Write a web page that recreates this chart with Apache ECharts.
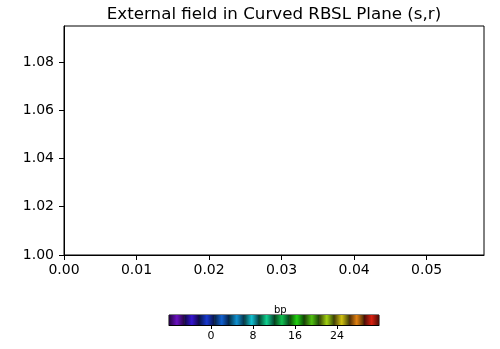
<!DOCTYPE html>
<html><head><meta charset="utf-8">
<script src="https://cdn.jsdelivr.net/npm/echarts@6/dist/echarts.min.js"></script>
<style>html,body{margin:0;padding:0;background:#fff}#c{width:500px;height:349px}</style>
</head><body><div id="c"></div>
<script>
const xTicks = [0, 0.01, 0.02, 0.03, 0.04, 0.05];
const yTicks = [1.00, 1.02, 1.04, 1.06, 1.08];
const xRange = [0, 0.0579];
const yRange = [1.0, 1.0949];
const cbTicks = [0, 8, 16, 24];
const cbRange = [-8, 32];
const bandEdges = [-8, -5.1, -2.3, 0.6, 3.4, 6.3, 9.1, 12, 14.9, 17.7, 20.6, 23.4, 26.3, 29.1, 32];
const bandColors = ['#6a10c0','#3414d0','#1838d0','#1060d0','#1090d0','#10c0d0','#10d090',
  '#10c050','#20d010','#50c010','#a0d010','#d0c010','#e08010','#d82010'];
const font = 'DejaVu Sans';

function darken(hex, f){
  const n = parseInt(hex.slice(1),16);
  const r = Math.round(((n>>16)&255)*f), g = Math.round(((n>>8)&255)*f), b = Math.round((n&255)*f);
  return 'rgb('+r+','+g+','+b+')';
}

const chart = echarts.init(document.getElementById('c'), null, {renderer:'canvas'});
chart.setOption({
  animation:false,
  title:{text:'External field in Curved RBSL Plane (s,r)', left:269, top:1, textAlign:'center',
    textStyle:{fontFamily:font, fontSize:16.7, fontWeight:'normal', color:'#000'}},
  grid:[
    {left:64, right:16, top:26, bottom:94, show:true, borderColor:'#000', borderWidth:1, containLabel:false},
    {left:169, width:210, top:315, height:10, show:true, borderColor:'#000', borderWidth:1}
  ],
  xAxis:[
    {type:'value', gridIndex:0, min:xRange[0], max:xRange[1],
      axisLine:{show:true, lineStyle:{color:'#000'}},
      axisTick:{show:true, inside:false, length:5, customValues:xTicks, lineStyle:{color:'#000'}},
      axisLabel:{customValues:xTicks, formatter:v=>v.toFixed(2), margin:8, color:'#000', fontFamily:font, fontSize:14},
      splitLine:{show:false}},
    {type:'value', gridIndex:1, min:cbRange[0], max:cbRange[1],
      axisLine:{show:true, lineStyle:{color:'#000'}},
      axisTick:{show:true, inside:false, length:4, customValues:cbTicks, lineStyle:{color:'#000'}},
      axisLabel:{customValues:cbTicks, margin:6, color:'#000', fontFamily:font, fontSize:11},
      splitLine:{show:false}}
  ],
  yAxis:[
    {type:'value', gridIndex:0, min:yRange[0], max:yRange[1],
      axisLine:{show:true, lineStyle:{color:'#000'}},
      axisTick:{show:true, inside:false, length:5, customValues:yTicks, lineStyle:{color:'#000'}},
      axisLabel:{customValues:yTicks, formatter:v=>v.toFixed(2), margin:10, color:'#000', fontFamily:font, fontSize:14},
      splitLine:{show:false}},
    {type:'value', gridIndex:1, min:0, max:1, show:false}
  ],
  graphic:[{type:'text', left:274, top:305, style:{text:'bp', font:'10px '+font, fill:'#000', textAlign:'center'}}],
  series:[{
    type:'custom', xAxisIndex:1, yAxisIndex:1, clip:true,
    data: bandColors.map((c,i)=>[bandEdges[i], bandEdges[i+1], i]),
    renderItem:(params, api)=>{
      const p0 = api.coord([api.value(0), 1]);
      const p1 = api.coord([api.value(1), 0]);
      const c = bandColors[api.value(2)];
      return {type:'rect', shape:{x:p0[0], y:p0[1], width:p1[0]-p0[0]+0.5, height:p1[1]-p0[1]},
        style:{fill:new echarts.graphic.LinearGradient(0,0,1,0,[
          {offset:0, color:darken(c,0.3)},{offset:0.5, color:c},{offset:1, color:darken(c,0.3)}])}};
    }
  }]
});
</script></body></html>
